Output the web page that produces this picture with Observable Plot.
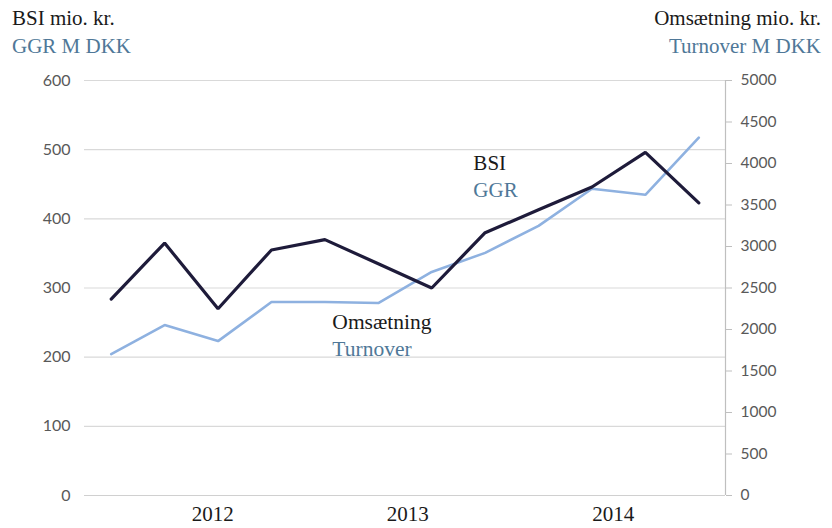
<!DOCTYPE html>
<html><head><meta charset="utf-8">
<script src="https://cdn.jsdelivr.net/npm/d3@7"></script>
<script src="https://cdn.jsdelivr.net/npm/@observablehq/plot@0.6"></script>
<style>
body{margin:0;background:#fff;}
#wrap{position:relative;width:832px;height:528px;overflow:hidden;}
.t{position:absolute;font-family:"Liberation Serif",serif;font-size:21px;line-height:24px;white-space:nowrap;}
.dark{color:#1a1a1a;} .blue{color:#4f7898;}
</style></head>
<body><div id="wrap">
<div class="t dark" style="left:12px;top:6px">BSI mio. kr.</div>
<div class="t blue" style="left:12px;top:34px">GGR M DKK</div>
<div class="t dark" style="right:11px;top:6px">Omsætning mio. kr.</div>
<div class="t blue" style="right:11px;top:34px">Turnover M DKK</div>
</div>
<script>
// quarterly observations (index 0..11)
const quarters = [0,1,2,3,4,5,6,7,8,9,10,11];
const bsi = [284,365,270,355,370,335,300,380,413,446,496,423];          // BSI / GGR, mio. kr. (left axis)
const omsaetning = [1703,2053,1860,2331,2331,2319,2693,2923,3249,3696,3623,4312]; // Turnover, mio. kr. (right axis)
const yearLabels = ["2012","2013","2014"];
const yearTicks = [1.9, 5.55, 9.4];
const leftTicks = [0,100,200,300,400,500,600];
const rightTicks = [0,500,1000,1500,2000,2500,3000,3500,4000,4500,5000];

const k = 600/5000;
const bsiData = quarters.map((q,i)=>({q, v:bsi[i]}));
const omsData = quarters.map((q,i)=>({q, v:omsaetning[i]*k}));

const sans = "Lato, 'Open Sans', sans-serif";
const serif = "'Liberation Serif', serif";

const chart = Plot.plot({
  width: 832, height: 528,
  marginLeft: 84, marginRight: 107, marginTop: 80, marginBottom: 33,
  style: {background: "transparent", fontFamily: sans},
  x: {domain: [-0.5, 11.5]},
  y: {domain: [0, 600]},
  marks: [
    Plot.gridY(leftTicks.filter(d=>d>0), {stroke:"#d9d9d9", strokeOpacity:1, strokeWidth:1.2}),
    Plot.ruleY([0], {stroke:"#d0d0d0", strokeWidth:1.2}),
    Plot.axisY(leftTicks, {anchor:"left", tickSize:0, tickPadding:14, fontSize:16, label:null, fill:"#595959"}),
    Plot.axisY(rightTicks.map(d=>d*k), {anchor:"right", tickSize:6, tickPadding:9, stroke:"#bfbfbf", fill:"#595959", fontSize:15.5, label:null, tickFormat: d=>String(Math.round(d/k))}),
    Plot.ruleX([11.5], {y1:0, y2:600, stroke:"#bfbfbf", strokeWidth:1.2}),
    Plot.axisX(yearTicks, {anchor:"bottom", tickSize:0, tickPadding:11, fontSize:21, fontFamily:serif, fill:"#1a1a1a", label:null, tickFormat:(d,i)=>yearLabels[i]}),
    Plot.line(omsData, {x:"q", y:"v", stroke:"#8eb1e0", strokeWidth:2.6, strokeLinejoin:"miter"}),
    Plot.line(bsiData, {x:"q", y:"v", stroke:"#1e1b3a", strokeWidth:3.2, strokeLinejoin:"miter"}),
    Plot.text(["BSI"], {x:6.78, y:480, text:d=>d, textAnchor:"start", fontSize:21, fontFamily:serif, fill:"#1a1a1a"}),
    Plot.text(["GGR"], {x:6.78, y:442, text:d=>d, textAnchor:"start", fontSize:21, fontFamily:serif, fill:"#4f7898"}),
    Plot.text(["Omsætning"], {x:4.14, y:251, text:d=>d, textAnchor:"start", fontSize:21.5, fontFamily:serif, fill:"#1a1a1a"}),
    Plot.text(["Turnover"], {x:4.14, y:212, text:d=>d, textAnchor:"start", fontSize:21.5, fontFamily:serif, fill:"#4f7898"})
  ]
});
chart.style.position = "absolute";
chart.style.left = "0"; chart.style.top = "0";
document.getElementById("wrap").prepend(chart);
</script>
</body></html>
